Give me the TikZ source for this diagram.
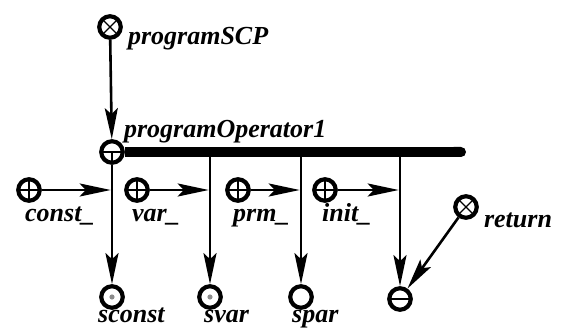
\documentclass[tikz,border=0pt]{standalone}
\usepackage{fontspec}
\setmainfont{Liberation Serif}
\usetikzlibrary{arrows.meta}
\tikzset{
  elem/.style={circle, draw, line width=4.2pt, minimum size=21.5pt, inner sep=0pt, fill=white},
  xelem/.style={elem, path picture={\draw[line width=1.4pt] (path picture bounding box.north west) -- (path picture bounding box.south east) (path picture bounding box.north east) -- (path picture bounding box.south west);}},
  pluselem/.style={elem, path picture={\draw[line width=1.4pt] (path picture bounding box.north) -- (path picture bounding box.south) (path picture bounding box.west) -- (path picture bounding box.east);}},
  minuselem/.style={elem, path picture={\draw[line width=1.4pt] (path picture bounding box.west) -- (path picture bounding box.east);}},
  opelem/.style={elem, path picture={\draw[line width=1.4pt] (path picture bounding box.west) -- (path picture bounding box.east) (path picture bounding box.center) -- (path picture bounding box.south);}},
  dotelem/.style={elem, path picture={\fill[black!45] (path picture bounding box.center) circle (2.6pt);}},
  lbl/.style={font=\fontsize{26}{28}\selectfont\bfseries\itshape, inner sep=0pt, anchor=base west},
  conn/.style={-{Stealth[length=31pt,width=13pt,inset=6pt]}, line width=2.6pt},
  busline/.style={line width=10pt, -{Round Cap[]}}
}
\begin{document}
\begin{tikzpicture}[x=1pt,y=-1pt]
    \useasboundingbox (0,0) rectangle (565,331);
    % elements
    \node[xelem] (scp) at (110,27) {};
    \node[opelem] (op) at (112,152) {};
    \node[pluselem] (cst) at (29,190) {};
    \node[pluselem] (var) at (137,190) {};
    \node[pluselem] (prm) at (238,190) {};
    \node[pluselem] (init) at (325,190) {};
    \node[xelem] (ret) at (466,207) {};
    \node[dotelem] (sconst) at (112,297) {};
    \node[dotelem] (svar) at (210,297) {};
    \node[elem] (spar) at (301,297) {};
    \node[minuselem] (res) at (400,299) {};
    % labels
    \node[lbl] (lscp) at ([shift={(5,18)}]scp.east) {programSCP};
    \node[lbl] (lop) at ([shift={(-1,-14)}]op.east) {programOperator1};
    \node[lbl] (lcst) at ([shift={(-4,19)}]cst.south) {const\_};
    \node[lbl] (lvar) at ([shift={(-5,19)}]var.south) {var\_};
    \node[lbl] (lprm) at ([shift={(-5,19)}]prm.south) {prm\_};
    \node[lbl] (linit) at ([shift={(-3,19)}]init.south) {init\_};
    \node[lbl] (lret) at ([shift={(5,21)}]ret.east) {return};
    \node[lbl] (lsconst) at ([shift={(-14,13)}]sconst.south) {sconst};
    \node[lbl] (lsvar) at ([shift={(-6,13)}]svar.south) {svar};
    \node[lbl] (lspar) at ([shift={(-9,13)}]spar.south) {spar};
    % bus
    \coordinate (busend) at (466,152);
    \coordinate (b2) at (svar |- op);
    \coordinate (b3) at (spar |- op);
    \coordinate (b4) at (res |- op);
    \draw[busline] (op.east) -- (busend);
    % arcs
    \draw[conn] (scp) -- (op);
    \draw[conn] (op.south) -- (sconst);
    \draw[conn] (b2) -- (svar);
    \draw[conn] (b3) -- (spar);
    \draw[conn] (b4) -- (res);
    \draw[conn, shorten >=1.3pt] (cst) -- (cst -| op);
    \draw[conn, shorten >=1.3pt] (var) -- (var -| b2);
    \draw[conn, shorten >=1.3pt] (prm) -- (prm -| b3);
    \draw[conn, shorten >=1.3pt] (init) -- (init -| b4);
    \draw[conn] (ret) -- (res);
\end{tikzpicture}
\end{document}
